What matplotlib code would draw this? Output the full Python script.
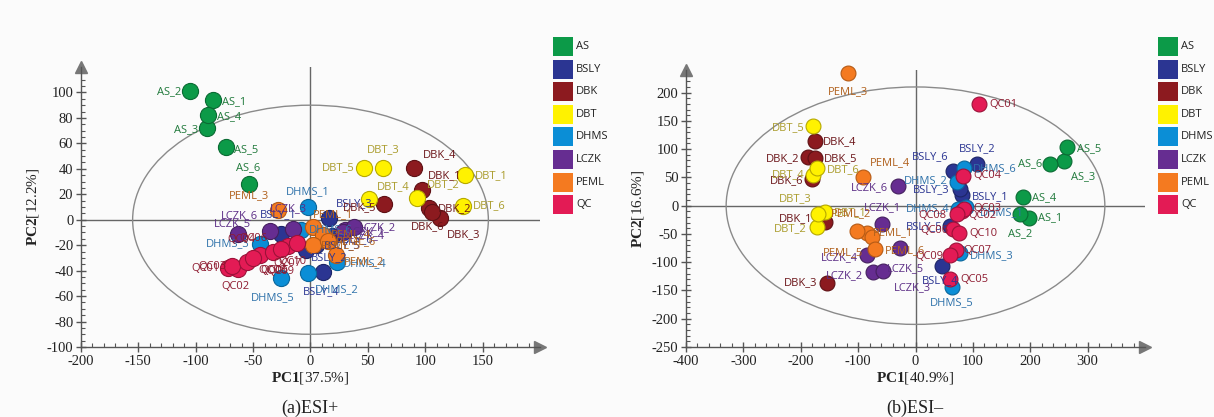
import matplotlib
matplotlib.use('Agg')
import matplotlib.pyplot as plt
from matplotlib.patches import Ellipse, Rectangle

plt.rcParams['mathtext.fontset'] = 'custom'
plt.rcParams['mathtext.rm'] = 'Liberation Serif'
plt.rcParams['mathtext.bf'] = 'Liberation Serif:bold'
plt.rcParams['axes.unicode_minus'] = False

groups = ['AS', 'BSLY', 'DBK', 'DBT', 'DHMS', 'LCZK', 'PEML', 'QC']

sample_names = (['AS_%d' % i for i in range(1, 7)] + ['BSLY_%d' % i for i in range(1, 7)]
                + ['DBK_%d' % i for i in range(1, 7)] + ['DBT_%d' % i for i in range(1, 7)]
                + ['DHMS_%d' % i for i in range(1, 7)] + ['LCZK_%d' % i for i in range(1, 7)]
                + ['PEML_%d' % i for i in range(1, 7)] + ['QC%02d' % i for i in range(1, 11)])

# ESI+ scores
pos_pc1 = [-85, -105, -90, -89, -74, -54,
           -26, -4, 16, 11, 5, 19,
           97, 103, 113, 90, 64, 106,
           135, 93, 63, 51, 47, 133,
           -2, -2, -44, 23, -26, -8,
           30, 38, -15, 28, -63, -35,
           2, 22, -28, 11, 2, 15,
           -72, -63, -68, -55, -44, -50, -20, -33, -26, -12]
pos_pc2 = [94, 101, 72, 82, 57, 28,
           -11, -24, 1, -41, -20, -13,
           23, 9, 1, 41, 12, 6,
           35, 17, 41, 16, 41, 11,
           10, -42, -19, -33, -46, -8,
           -8, -6, -7, -10, -11, -9,
           -6, -28, 8, -12, -20, -17,
           -38, -39, -36, -33, -28, -30, -21, -25, -23, -18]

# ESI- scores
neg_pc1 = [198, 182, 259, 187, 264, 234,
           81, 107, 77, 46, 60, 65,
           -158, -187, -154, -175, -175, -180,
           -157, -172, -170, -178, -178, -172,
           88, 72, 78, 74, 64, 85,
           -58, -74, -27, -84, -57, -30,
           -85, -102, -118, -91, -76, -71,
           111, 81, 85, 83, 60, 66, 70, 72, 60, 76]
neg_pc2 = [-21, -14, 79, 16, 104, 74,
           18, 74, 30, -106, -36, 62,
           -28, 86, -136, 115, 85, 48,
           -12, -38, -14, 55, 141, 67,
           -3, 41, -84, -5, -144, 67,
           -32, -118, -74, -88, -115, 35,
           -48, -44, 235, 50, -56, -76,
           180, -9, -5, 53, -129, -42, -79, -15, -88, -48]

fill_colors = {'AS': '#0c9a48', 'BSLY': '#2b3592', 'DBK': '#8c1a1f', 'DBT': '#fff200',
               'DHMS': '#0b8ed6', 'LCZK': '#662d91', 'PEML': '#f47a20', 'QC': '#e31b55'}
edge_colors = {'AS': '#0a6b33', 'BSLY': '#1c2466', 'DBK': '#5e1014', 'DBT': '#b5a800',
               'DHMS': '#0a669b', 'LCZK': '#45205f', 'PEML': '#b55a15', 'QC': '#9c1239'}
text_colors = {'AS': '#217a3c', 'BSLY': '#2b3592', 'DBK': '#6b1418', 'DBT': '#aa9c2c',
               'DHMS': '#2f72aa', 'LCZK': '#5b2c85', 'PEML': '#b0601c', 'QC': '#8e1b30'}

pos_offsets = {
    'AS_2': (-9, 0, 'right'), 'AS_3': (-9, -2, 'right'), 'AS_1': (9, -2, 'left'), 'AS_4': (9, -1, 'left'),
    'AS_5': (8, -2, 'left'), 'AS_6': (0, 16, 'center'), 'PEML_3': (-29, 14, 'center'),
    'DHMS_1': (0, 15, 'center'), 'DBT_5': (-10, 0, 'right'), 'DBT_3': (0, 18, 'center'),
    'DBK_4': (9, 13, 'left'), 'DBK_1': (6, 15, 'left'), 'DBT_2': (10, 13, 'left'), 'DBT_1': (9, 0, 'left'),
    'DBT_4': (8, 13, 'left'), 'DBK_5': (-8, -3, 'right'), 'BSLY_3': (7, 15, 'left'),
    'DBK_2': (9, 0, 'left'), 'DBT_6': (10, 0, 'left'), 'DBK_6': (-5, -15, 'center'),
    'DBK_3': (7, -16, 'left'), 'LCZK_6': (-12, 16, 'right'), 'BSLY_1': (-2, 19, 'center'),
    'LCZK_3': (-5, 20, 'center'), 'LCZK_5': (-6, 10, 'center'), 'PEML_1': (0, 13, 'left'),
    'DHMS_3': (-10, 0, 'right'), 'QC01': (-8, 0, 'right'), 'QC03': (-6, -1, 'right'),
    'QC02': (-3, -17, 'center'), 'DHMS_5': (-8, -19, 'center'), 'BSLY_4': (-2, -20, 'center'),
    'DHMS_2': (7, -16, 'left'), 'DHMS_4': (6, -2, 'left'), 'QC07': (0, -17, 'center'),
    'QC05': (0, -15, 'left'), 'QC08': (0, -19, 'center'), 'BSLY_2': (5, -7, 'left'),
    'PEML_2': (8, -6, 'left'), 'LCZK_1': (3, -2, 'left'), 'LCZK_2': (5, 0, 'left'),
    'LCZK_4': (5, -3, 'left'), 'BSLY_6': (5, -3, 'left'), 'QC04': (-6, 22, 'center'),
    'QC06': (0, 19, 'center'), 'QC09': (0, -22, 'center'), 'QC10': (-4, -19, 'center'),
}
neg_offsets = {
    'PEML_3': (0, -19, 'center'), 'DBT_5': (-9, -2, 'right'), 'DBK_4': (8, -1, 'left'),
    'DBK_2': (-9, -2, 'right'), 'DBK_5': (9, -1, 'left'), 'DBT_6': (10, -2, 'left'),
    'PEML_4': (7, 15, 'left'), 'DBT_4': (-9, 0, 'right'), 'DBK_6': (-9, -2, 'right'),
    'LCZK_6': (-10, -2, 'right'), 'DBT_3': (-23, 15, 'center'), 'DBT_1': (8, 0, 'left'),
    'DBK_1': (-12, 3, 'right'), 'DBT_2': (-10, -1, 'right'), 'PEML_2': (-6, 17, 'center'),
    'PEML_1': (6, 0, 'left'), 'PEML_5': (-9, -15, 'right'), 'PEML_6': (10, -2, 'left'),
    'LCZK_1': (0, 16, 'center'), 'LCZK_4': (-9, -2, 'right'), 'LCZK_2': (-10, -3, 'right'),
    'LCZK_5': (4, 2, 'left'), 'LCZK_3': (12, -40, 'center'), 'QC01': (10, -1, 'left'),
    'BSLY_2': (0, 15, 'center'), 'BSLY_6': (-4, 14, 'right'), 'DHMS_6': (9, -1, 'left'),
    'AS_6': (-8, 0, 'right'), 'AS_5': (10, -2, 'left'), 'AS_3': (7, -16, 'left'),
    'QC04': (10, 0, 'left'), 'DHMS_2': (-9, 2, 'right'), 'BSLY_3': (-10, -1, 'right'),
    'BSLY_1': (10, -1, 'left'), 'AS_4': (9, -1, 'left'), 'DHMS_4': (-8, 0, 'right'),
    'DHMS_1': (14, -5, 'left'), 'QC03': (9, 0, 'left'), 'AS_1': (9, 0, 'left'),
    'AS_2': (0, -20, 'center'), 'QC08': (-10, -1, 'right'), 'QC02': (6, -5, 'left'),
    'QC10': (10, -1, 'left'), 'BSLY_5': (-7, -1, 'right'), 'QC06': (-5, -1, 'right'),
    'QC07': (8, 0, 'left'), 'QC09': (-7, -1, 'right'), 'DHMS_3': (10, -2, 'left'),
    'BSLY_4': (-2, -15, 'center'), 'QC05': (10, -1, 'left'), 'DHMS_5': (0, -16, 'center'),
    'DBK_3': (-10, 0, 'right'),
}


def group_of(name):
    return 'QC' if name.startswith('QC') else name.split('_')[0]


def draw_panel(ax, pc1, pc2, offsets, xlim, ylim, xmajor, xminor, ymajor, yminor,
               ell_w, ell_h, msize, xlab, ylab):
    ax.set_facecolor('none')
    ax.set_xlim(*xlim)
    ax.set_ylim(*ylim)
    for s in ['top', 'right']:
        ax.spines[s].set_visible(False)
    for s in ['left', 'bottom']:
        ax.spines[s].set_color('#555555')
        ax.spines[s].set_linewidth(1.0)
    ax.plot(1, 0, '>', color='#777777', ms=9, transform=ax.transAxes, clip_on=False)
    ax.plot(0, 1, '^', color='#777777', ms=9, transform=ax.transAxes, clip_on=False)
    ax.axhline(0, color='#666666', lw=1.0, zorder=1)
    ax.axvline(0, color='#666666', lw=1.0, zorder=1)
    ax.add_patch(Ellipse((0, 0), ell_w, ell_h, fill=False, ec='#8a8a8a', lw=1.0, zorder=1))

    xt = list(range(xlim[0], xlim[1], xmajor))
    yt = list(range(ylim[0], ylim[1], ymajor))
    ax.set_xticks(xt)
    ax.set_yticks([v for v in yt if v <= ylim[1] - 10])
    ax.set_xticks(list(range(xlim[0], xlim[1], xminor)), minor=True)
    ax.set_yticks(list(range(ylim[0], ylim[1], yminor)), minor=True)
    ax.tick_params(which='major', direction='inout', length=7, width=1, color='#555555',
                   labelsize=10.5, labelcolor='#222222', pad=2)
    ax.tick_params(which='minor', direction='in', length=3, width=0.8, color='#555555')
    for lab in ax.get_xticklabels() + ax.get_yticklabels():
        lab.set_fontfamily('Liberation Serif')

    for name, x, y in zip(sample_names, pc1, pc2):
        g = group_of(name)
        ax.scatter(x, y, s=msize, color=fill_colors[g], edgecolors=edge_colors[g],
                   linewidths=0.8, zorder=3, clip_on=False)
    for name, x, y in zip(sample_names, pc1, pc2):
        g = group_of(name)
        dx, dy, ha = offsets.get(name, (8, 0, 'left'))
        ax.annotate(name, (x, y), xytext=(dx, dy), textcoords='offset pixels',
                    ha=ha, va='center', fontsize=8, family='Open Sans',
                    color=text_colors[g], zorder=4, annotation_clip=False)

    ax.set_xlabel(xlab, fontsize=11, family='Liberation Serif', labelpad=2, color='#222222')
    ax.set_ylabel(ylab, fontsize=11, family='Liberation Serif', labelpad=4, color='#222222')


def draw_legend(fig, x0):
    W, H = 1214.0, 417.0
    for i, g in enumerate(groups):
        top = 37 + i * 22.6
        fig.add_artist(Rectangle((x0 / W, 1 - (top + 19) / H), 20 / W, 19 / H,
                                 transform=fig.transFigure, color=fill_colors[g], lw=0))
        fig.text((x0 + 23) / W, 1 - (top + 9.5) / H, g, fontsize=8, family='Open Sans',
                 color='#222222', va='center', ha='left')


def main():
    fig = plt.figure(figsize=(12.14, 4.17), dpi=100)
    fig.patch.set_facecolor('#fbfbfb')
    W, H = 1214.0, 417.0

    ax1 = fig.add_axes([81 / W, 70 / H, 459 / W, 280 / H])
    draw_panel(ax1, pos_pc1, pos_pc2, pos_offsets, (-200, 200), (-100, 120), 50, 10, 20, 5,
               310, 180, 135, r'$\mathbf{PC1}$[37.5%]', r'$\mathbf{PC2}$[12.2%]')

    ax2 = fig.add_axes([686 / W, 70 / H, 459 / W, 277 / H])
    draw_panel(ax2, neg_pc1, neg_pc2, neg_offsets, (-400, 400), (-250, 240), 100, 20, 50, 10,
               660, 420, 115, r'$\mathbf{PC1}$[40.9%]', r'$\mathbf{PC2}$[16.6%]')

    draw_legend(fig, 553)
    draw_legend(fig, 1158)

    fig.text(310 / W, 1 - 408 / H, '(a)ESI+', fontsize=13, family='Liberation Serif',
             ha='center', va='center', color='#222222')
    fig.text(915 / W, 1 - 408 / H, '(b)ESI\u2013', fontsize=13, family='Liberation Serif',
             ha='center', va='center', color='#222222')

    fig.savefig('out.png', dpi=100, facecolor=fig.get_facecolor())


if __name__ == '__main__':
    main()
